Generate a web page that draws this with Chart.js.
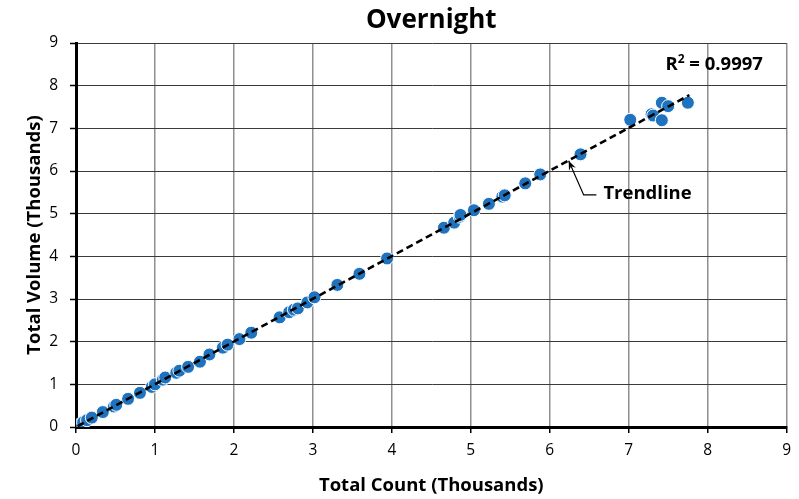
<!DOCTYPE html>
<html>
<head>
<meta charset="utf-8">
<script src="https://cdn.jsdelivr.net/npm/chart.js@4/dist/chart.umd.min.js"></script>
<style>
  html, body { margin: 0; padding: 0; background: #ffffff; }
  #wrap { width: 799px; height: 499px; }
</style>
</head>
<body>
<div id="wrap"><canvas id="chart" width="799" height="499"></canvas></div>
<script>
// Overnight observations, both axes in thousands
const countK = [
  0.02, 0.05, 0.09, 0.14, 0.20, 0.34, 0.48, 0.51, 0.66, 0.81,
  0.96, 1.00, 1.10, 1.13, 1.27, 1.31, 1.42, 1.57, 1.69, 1.86,
  1.92, 2.07, 2.22, 2.58, 2.70, 2.76, 2.81, 2.93, 3.02, 3.31,
  3.59, 3.94, 4.66, 4.79, 4.86, 4.87, 5.04, 5.23, 5.40, 5.43,
  5.69, 5.88, 6.39, 7.02, 7.29, 7.31, 7.42, 7.42, 7.50, 7.75
];
const volumeK = [
  0.02, 0.06, 0.11, 0.16, 0.22, 0.35, 0.48, 0.52, 0.66, 0.80,
  0.94, 1.00, 1.11, 1.16, 1.27, 1.32, 1.41, 1.53, 1.70, 1.86,
  1.93, 2.06, 2.21, 2.57, 2.69, 2.75, 2.78, 2.92, 3.04, 3.33,
  3.59, 3.95, 4.67, 4.79, 4.93, 4.97, 5.08, 5.23, 5.40, 5.43,
  5.71, 5.92, 6.39, 7.20, 7.33, 7.30, 7.60, 7.19, 7.52, 7.60
];

// Linear trendline end points
const trendCount = [0.02, 7.77];
const trendVolume = [0.02, 7.78];

// Axis range and labels
const axisMin = 0;
const axisMax = 9;
const chartTitle = 'Overnight';
const xTitle = 'Total Count (Thousands)';
const yTitle = 'Total Volume (Thousands)';
const rSquared = '0.9997';
const trendLabel = 'Trendline';

// Annotation anchors, in axis units
const rLabelAt = { x: 8.70, y: 8.48 };
const arrowTip = { x: 6.24, y: 6.24 };
const arrowElbow = { x: 6.43, y: 5.44 };
const trendLabelAt = { x: 6.68, y: 5.47 };

const FONT = '"Open Sans", Lato, sans-serif';
const MARK = '#1f73be';

const annotations = {
  id: 'annotations',
  afterDatasetsDraw(chart) {
    const { ctx, chartArea, scales: { x, y } } = chart;
    ctx.save();
    ctx.fillStyle = '#000';
    ctx.textBaseline = 'middle';

    // chart title centred over the plot area
    ctx.font = 'bold 26px ' + FONT;
    ctx.textAlign = 'center';
    ctx.fillText(chartTitle, (chartArea.left + chartArea.right) / 2, 21);

    // R squared label (right aligned, superscript 2)
    ctx.font = 'bold 18.5px ' + FONT;
    const rest = ' = ' + rSquared;
    const restW = ctx.measureText(rest).width;
    const rx = x.getPixelForValue(rLabelAt.x);
    const ry = y.getPixelForValue(rLabelAt.y);
    ctx.textAlign = 'left';
    ctx.font = 'bold 12px ' + FONT;
    const supW = ctx.measureText('2').width;
    ctx.font = 'bold 18.5px ' + FONT;
    const rW = ctx.measureText('R').width;
    const startX = rx - restW - supW - rW;
    ctx.fillText('R', startX, ry);
    ctx.font = 'bold 12px ' + FONT;
    ctx.fillText('2', startX + rW, ry - 6);
    ctx.font = 'bold 18.5px ' + FONT;
    ctx.fillText(rest, startX + rW + supW, ry);

    // trendline callout with arrow
    const tx = x.getPixelForValue(arrowTip.x);
    const ty = y.getPixelForValue(arrowTip.y);
    const ex = x.getPixelForValue(arrowElbow.x);
    const ey = y.getPixelForValue(arrowElbow.y);
    const lx = x.getPixelForValue(trendLabelAt.x);
    const ly = y.getPixelForValue(trendLabelAt.y);
    ctx.strokeStyle = '#000';
    ctx.lineWidth = 1.2;
    ctx.beginPath();
    ctx.moveTo(lx - 7, ey);
    ctx.lineTo(ex, ey);
    ctx.lineTo(tx, ty);
    ctx.stroke();
    const ang = Math.atan2(ty - ey, tx - ex);
    const head = 10, spread = 0.38;
    ctx.beginPath();
    ctx.moveTo(tx, ty);
    ctx.lineTo(tx - head * Math.cos(ang - spread), ty - head * Math.sin(ang - spread));
    ctx.lineTo(tx - head * 0.6 * Math.cos(ang), ty - head * 0.6 * Math.sin(ang));
    ctx.lineTo(tx - head * Math.cos(ang + spread), ty - head * Math.sin(ang + spread));
    ctx.closePath();
    ctx.fill();
    ctx.font = 'bold 18.5px ' + FONT;
    ctx.textAlign = 'left';
    ctx.fillText(trendLabel, lx, ly);
    ctx.restore();
  }
};

new Chart(document.getElementById('chart'), {
  type: 'scatter',
  data: {
    datasets: [
      {
        label: 'Trendline',
        type: 'line',
        data: trendCount.map((v, i) => ({ x: v, y: trendVolume[i] })),
        borderColor: '#000',
        borderWidth: 2.6,
        borderDash: [7, 4],
        pointRadius: 0,
        fill: false,
        order: 0
      },
      {
        label: 'Overnight',
        data: countK.map((v, i) => ({ x: v, y: volumeK[i] })),
        backgroundColor: MARK,
        borderColor: '#ffffff',
        borderWidth: 1,
        pointRadius: 6.5,
        pointHoverRadius: 6.5,
        order: 1
      }
    ]
  },
  options: {
    responsive: false,
    animation: false,
    devicePixelRatio: 1,
    layout: { padding: { top: 43, right: 2, left: 0, bottom: 0 } },
    plugins: {
      legend: { display: false },
      title: { display: false },
      tooltip: { enabled: false }
    },
    scales: {
      x: {
        type: 'linear',
        min: axisMin, max: axisMax,
        afterFit(s) { s.height = 72; },
        ticks: { stepSize: 1, color: '#000', padding: 8, font: { family: FONT, size: 15.5 } },
        grid: { color: '#8f8f8f', lineWidth: 1.5, tickColor: '#000', tickLength: 6, tickWidth: 1.5 },
        border: { color: '#000', width: 3 },
        title: { display: true, text: xTitle, color: '#000', padding: { top: 0, bottom: 2 }, font: { family: FONT, size: 18.5, weight: 'bold' } }
      },
      y: {
        type: 'linear',
        min: axisMin, max: axisMax,
        afterFit(s) { s.width = 76; },
        ticks: { stepSize: 1, color: '#000', padding: 12, font: { family: FONT, size: 15.5 } },
        grid: { color: '#3a3a3a', lineWidth: 1, tickColor: '#000', tickLength: 6, tickWidth: 1.5 },
        border: { color: '#000', width: 3 },
        title: { display: true, text: yTitle, color: '#000', padding: { top: 24, bottom: 0 }, font: { family: FONT, size: 18.5, weight: 'bold' } }
      }
    }
  },
  plugins: [annotations]
});
</script>
</body>
</html>
